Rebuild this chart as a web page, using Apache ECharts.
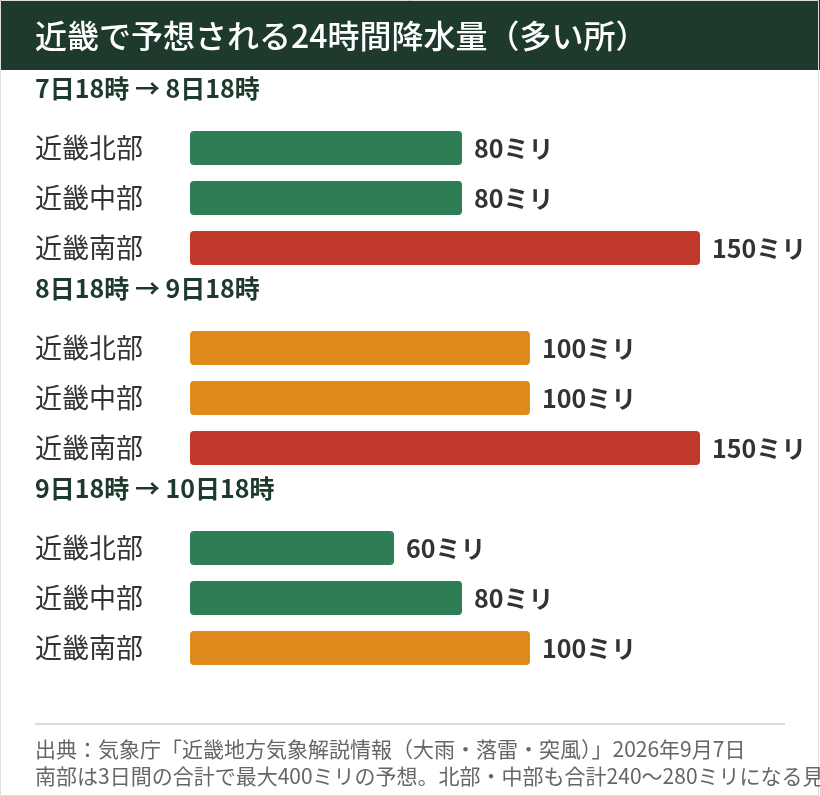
<!DOCTYPE html>
<html><head><meta charset="utf-8">
<script src="https://cdn.jsdelivr.net/npm/echarts@6/dist/echarts.min.js"></script>
<style>html,body{margin:0;padding:0;background:#fff}#c{width:820px;height:796px}</style>
</head><body><div id="c"></div>
<script>
const periods = ['7日18時 → 8日18時', '8日18時 → 9日18時', '9日18時 → 10日18時'];
const regions = ['近畿北部', '近畿中部', '近畿南部'];
const rain1 = [80, 80, 150];
const rain2 = [100, 100, 150];
const rain3 = [60, 80, 100];
const title = '近畿で予想される24時間降水量（多い所）';
const footer1 = '出典：気象庁「近畿地方気象解説情報（大雨・落雷・突風）」2026年9月7日';
const footer2 = '南部は3日間の合計で最大400ミリの予想。北部・中部も合計240〜280ミリになる見込み';

const cats = [], vals = [];
[rain1, rain2, rain3].forEach((arr, g) => {
  cats.push('H:' + periods[g]); vals.push(null);
  arr.forEach((v, i) => { cats.push(regions[i]); vals.push(v); });
});
function colorFor(v) { return v >= 150 ? '#c0392b' : v >= 100 ? '#e08a1e' : '#2e7d55'; }
const F = '"Noto Sans CJK JP", sans-serif';
const chart = echarts.init(document.getElementById('c'));
chart.setOption({
  animation: false,
  textStyle: { fontFamily: F },
  grid: { left: 190, right: 120, top: 73, height: 600 },
  xAxis: { type: 'value', min: 0, max: 150, show: false },
  yAxis: {
    type: 'category', data: cats, inverse: true,
    axisLine: { show: false }, axisTick: { show: false },
    axisLabel: {
      align: 'left', margin: 155, fontFamily: F,
      formatter: s => s.startsWith('H:') ? '{h|' + s.slice(2) + '}' : '{r|' + s + '}',
      rich: {
        h: { fontSize: 25, fontWeight: 'bold', color: '#1e3a2c', padding: [0, 0, 20, 0], fontFamily: F },
        r: { fontSize: 27, color: '#333', fontFamily: F }
      }
    }
  },
  series: [{
    type: 'bar', data: vals.map(v => v == null ? null : { value: v, itemStyle: { color: colorFor(v) } }),
    barWidth: 34, itemStyle: { borderRadius: 4 },
    label: { show: true, position: 'right', distance: 12, formatter: p => p.value + 'ミリ',
      fontSize: 25, fontWeight: 'bold', color: '#333', fontFamily: F }
  }],
  graphic: [
    { type: 'rect', shape: { x: 0, y: 0, width: 820, height: 70 }, style: { fill: '#1e3a2c' } },
    { type: 'text', x: 35, y: 36, style: { text: title, fill: '#fff', fontSize: 32, fontWeight: 500, fontFamily: F, verticalAlign: 'middle' } },
    { type: 'rect', shape: { x: 0.5, y: 0.5, width: 818, height: 795 }, style: { fill: 'none', stroke: '#ddd', lineWidth: 1 } },
    { type: 'line', shape: { x1: 35, y1: 724, x2: 785, y2: 724 }, style: { stroke: '#ddd', lineWidth: 2 } },
    { type: 'text', x: 35, y: 749, style: { text: footer1, fill: '#666', fontSize: 21, fontFamily: F, verticalAlign: 'middle' } },
    { type: 'text', x: 35, y: 776, style: { text: footer2, fill: '#666', fontSize: 21, fontFamily: F, verticalAlign: 'middle' } }
  ]
});
</script></body></html>
